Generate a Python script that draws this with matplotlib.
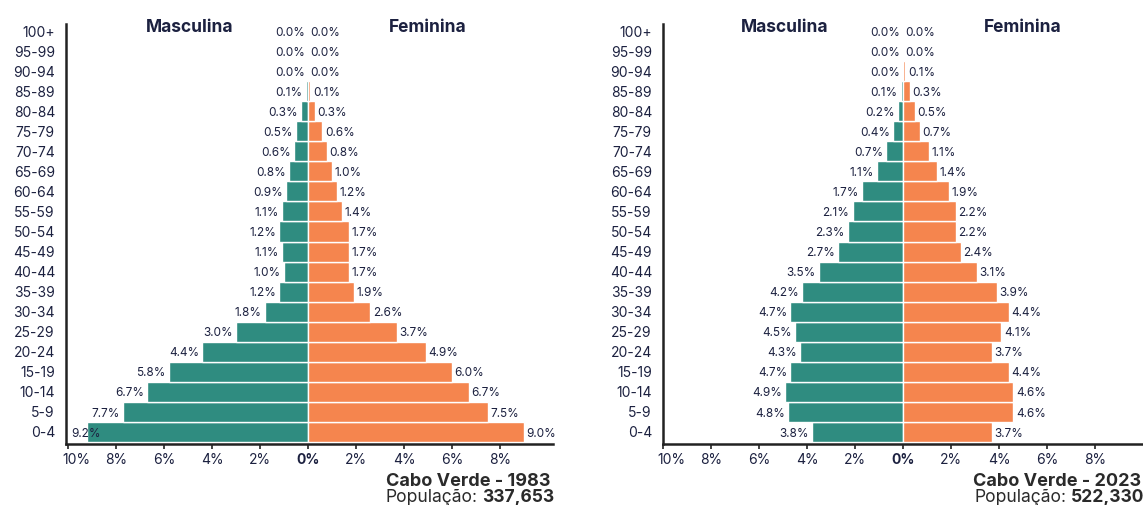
import matplotlib
matplotlib.use("Agg")
import matplotlib.pyplot as plt
from matplotlib.transforms import ScaledTranslation

plt.rcParams["font.family"] = ["Inter", "DejaVu Sans"]

# ── data: share of total population (%) by age group ──────────────────────────
age_groups = ["0-4", "5-9", "10-14", "15-19", "20-24", "25-29", "30-34",
              "35-39", "40-44", "45-49", "50-54", "55-59", "60-64", "65-69",
              "70-74", "75-79", "80-84", "85-89", "90-94", "95-99", "100+"]

male_1983 = [9.2, 7.7, 6.7, 5.8, 4.4, 3.0, 1.8, 1.2, 1.0, 1.1, 1.2,
             1.1, 0.9, 0.8, 0.6, 0.5, 0.3, 0.1, 0.0, 0.0, 0.0]
female_1983 = [9.0, 7.5, 6.7, 6.0, 4.9, 3.7, 2.6, 1.9, 1.7, 1.7, 1.7,
               1.4, 1.2, 1.0, 0.8, 0.6, 0.3, 0.1, 0.0, 0.0, 0.0]

male_2023 = [3.8, 4.8, 4.9, 4.7, 4.3, 4.5, 4.7, 4.2, 3.5, 2.7, 2.3,
             2.1, 1.7, 1.1, 0.7, 0.4, 0.2, 0.1, 0.0, 0.0, 0.0]
female_2023 = [3.7, 4.6, 4.6, 4.4, 3.7, 4.1, 4.4, 3.9, 3.1, 2.4, 2.2,
               2.2, 1.9, 1.4, 1.1, 0.7, 0.5, 0.3, 0.1, 0.0, 0.0]

titles = ["Cabo Verde - 1983", "Cabo Verde - 2023"]
populations = ["337,653", "522,330"]

x_ticks = [-10, -8, -6, -4, -2, 0, 2, 4, 6, 8]
x_tick_labels = ["10%", "8%", "6%", "4%", "2%", "0%", "2%", "4%", "6%", "8%"]

TEAL = "#2f8c80"
ORANGE = "#f5854e"
INK = "#1c2140"
AXIS = "#222222"

W, H = 1143, 505
fig = plt.figure(figsize=(W / 100, H / 100), dpi=100)

# axes placed in pixel terms: (left, right edge of x axis, x-limits)
panels = [
    dict(left=66, right=553, xlim=(-10.08, 10.2), male=male_1983, female=female_1983),
    dict(left=663, right=1143, xlim=(-10.0, 10.0), male=male_2023, female=female_2023),
]
ax_bottom, ax_top = 444, 24

axes = []
for p in panels:
    ax = fig.add_axes([p["left"] / W, (H - ax_bottom) / H,
                       (p["right"] - p["left"]) / W, (ax_bottom - ax_top) / H])
    y = list(range(len(age_groups)))
    ax.barh(y, [-v for v in p["male"]], height=1.0, color=TEAL,
            edgecolor="white", linewidth=1.0)
    ax.barh(y, p["female"], height=1.0, color=ORANGE,
            edgecolor="white", linewidth=1.0)

    ax.set_xlim(*p["xlim"])
    ax.set_ylim(-0.6, 20.35)

    # value labels on either side of the centre line
    for i, (m, f) in enumerate(zip(p["male"], p["female"])):
        yl = i - 0.08
        if m + 1.45 > -p["xlim"][0]:
            ax.text(p["xlim"][0] + 0.2, yl, f"{m:.1f}%", ha="left", va="center",
                    fontsize=8.5, color=INK)
        else:
            ax.text(-m - 0.13, yl, f"{m:.1f}%", ha="right", va="center",
                    fontsize=8.5, color=INK)
        ax.text(f + 0.1, yl, f"{f:.1f}%", ha="left", va="center",
                fontsize=8.5, color=INK)

    ax.text(-4.95, 19.95, "Masculina", ha="center", va="baseline",
            fontsize=12.5, fontweight="bold", color=INK)
    ax.text(5.0, 19.95, "Feminina", ha="center", va="baseline",
            fontsize=12.5, fontweight="bold", color=INK)

    ax.set_yticks(y)
    ax.set_yticklabels(age_groups, fontsize=10, color=INK)
    ax.tick_params(axis="y", length=0, pad=8)
    ax.set_xticks(x_ticks)
    ax.set_xticklabels(x_tick_labels, fontsize=10, color=INK)
    ax.tick_params(axis="x", length=3.5, width=1.2, color=AXIS, pad=3)
    xl = ax.get_xticklabels()
    xl[0].set_transform(xl[0].get_transform() +
                        ScaledTranslation(6 / 72, 0, fig.dpi_scale_trans))
    xl[5].set_fontweight("bold")

    for side in ["top", "right"]:
        ax.spines[side].set_visible(False)
    for side in ["left", "bottom"]:
        ax.spines[side].set_linewidth(1.8)
        ax.spines[side].set_color(AXIS)
    axes.append(ax)

# country/year caption and population under each panel
fig.canvas.draw()
renderer = fig.canvas.get_renderer()
for p, title, pop in zip(panels, titles, populations):
    x_title = (p["right"] - 2) / W
    x_pop = (p["right"] + 1) / W
    fig.text(x_title, (H - 485.5) / H, title, ha="right", va="baseline",
             fontsize=13, fontweight="bold", color="#2a2a2a")
    t_num = fig.text(x_pop, (H - 502) / H, pop, ha="right", va="baseline",
                     fontsize=12.6, fontweight="bold", color="#2a2a2a")
    bb = t_num.get_window_extent(renderer)
    fig.text((bb.x0 - 4) / W, (H - 502) / H, "População:", ha="right",
             va="baseline", fontsize=12.6, color="#2a2a2a")

fig.savefig("out.png", dpi=100)
